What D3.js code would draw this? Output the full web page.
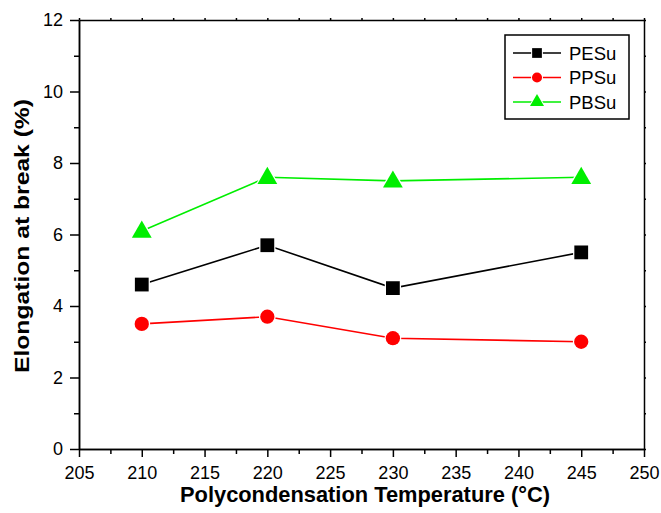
<!DOCTYPE html>
<html>
<head>
<meta charset="utf-8">
<script src="https://cdn.jsdelivr.net/npm/d3@7"></script>
<style>
  body { margin: 0; background: #fff; }
  svg { font-family: "Liberation Sans", Arial, sans-serif; }
</style>
</head>
<body>
<div id="chart"></div>
<script>
// data
var temps = [210, 220, 230, 245];
var pesu = [4.6, 5.7, 4.5, 5.5];
var ppsu = [3.5, 3.7, 3.1, 3.0];
var pbsu = [6.1, 7.6, 7.5, 7.6];
var seriesNames = ["PESu", "PPSu", "PBSu"];
var xTicks = [205, 210, 215, 220, 225, 230, 235, 240, 245, 250];
var yTicks = [0, 2, 4, 6, 8, 10, 12];

var svgWidth = 661, svgHeight = 513;
var margin = {top: 20, right: 17, bottom: 64, left: 79};
var width = svgWidth - margin.left - margin.right;
var height = svgHeight - margin.top - margin.bottom;

var svg = d3.select("#chart").append("svg")
    .attr("width", svgWidth)
    .attr("height", svgHeight);

var g = svg.append("g")
    .attr("transform", `translate(${margin.left}, ${margin.top})`);

var x = d3.scaleLinear().domain([205, 250]).range([0, width]);
var y = d3.scaleLinear().domain([0, 12]).range([height, 0]);

// minor ticks
var xMinor = d3.range(207.5, 250, 5);
var yMinor = d3.range(1, 12, 2);

// bottom axis
g.append("g")
    .attr("transform", `translate(0, ${height})`)
    .call(d3.axisBottom(x).tickValues(xTicks).tickSize(8).tickPadding(9).tickSizeOuter(0));
g.append("g")
    .attr("transform", `translate(0, ${height})`)
    .call(d3.axisBottom(x).tickValues(xMinor).tickSize(5).tickFormat("").tickSizeOuter(0));

// left axis
g.append("g")
    .call(d3.axisLeft(y).tickValues(yTicks).tickSize(9).tickPadding(7).tickSizeOuter(0));
g.append("g")
    .call(d3.axisLeft(y).tickValues(yMinor).tickSize(5).tickFormat("").tickSizeOuter(0));

// top & right frame with tiny ticks
g.append("g")
    .call(d3.axisTop(x).tickValues(xTicks.concat(xMinor)).tickSize(2).tickFormat("").tickSizeOuter(0));
g.append("g")
    .attr("transform", `translate(${width}, 0)`)
    .call(d3.axisRight(y).tickValues(yTicks.concat(yMinor)).tickSize(2).tickFormat("").tickSizeOuter(0));

g.selectAll(".domain, .tick line").attr("stroke", "#000").attr("stroke-width", 1.5);
g.selectAll(".tick text").attr("font-size", 18).attr("fill", "#000");

// series
var series = [
  {name: seriesNames[0], values: pesu, color: "#000000", shape: d3.symbolSquare, size: 190},
  {name: seriesNames[1], values: ppsu, color: "#ff0000", shape: d3.symbolCircle, size: 160},
  {name: seriesNames[2], values: pbsu, color: "#00ee00", shape: d3.symbolTriangle, size: 170}
];

var line = d3.line()
    .x(function(d, i) { return x(temps[i]); })
    .y(function(d) { return y(d); });

series.forEach(function(s) {
  g.append("path")
      .datum(s.values)
      .attr("d", line)
      .attr("fill", "none")
      .attr("stroke", s.color)
      .attr("stroke-width", 1.6);

  g.selectAll(null)
      .data(s.values)
      .enter()
      .append("path")
      .attr("d", d3.symbol().type(s.shape).size(s.size))
      .attr("transform", function(d, i) {
        var dy = s.shape === d3.symbolTriangle ? 1 : 0;
        return `translate(${x(temps[i])}, ${y(d) + dy})`;
      })
      .attr("fill", s.color)
      .attr("stroke", "#fff")
      .attr("stroke-width", 2.5)
      .attr("paint-order", "stroke");
});

// legend
var legend = svg.append("g").attr("transform", "translate(505, 35)");
legend.append("rect")
    .attr("width", 124).attr("height", 84)
    .attr("fill", "#fff").attr("stroke", "#000").attr("stroke-width", 1.5);

series.forEach(function(s, i) {
  var row = legend.append("g").attr("transform", `translate(0, ${18 + i * 24.5})`);
  row.append("line")
      .attr("x1", 8).attr("x2", 56)
      .attr("stroke", s.color).attr("stroke-width", 1.5);
  row.append("path")
      .attr("d", d3.symbol().type(s.shape).size(s.size * 0.5))
      .attr("transform", "translate(32, 0)")
      .attr("fill", s.color)
      .attr("stroke", "#fff").attr("stroke-width", 2)
      .attr("paint-order", "stroke");
  row.append("text")
      .attr("x", 64).attr("y", 6.5)
      .attr("font-size", 18.5)
      .text(s.name);
});

// axis titles
svg.append("text")
    .attr("x", 365)
    .attr("y", 502)
    .attr("text-anchor", "middle")
    .attr("font-size", 22)
    .attr("font-weight", "bold")
    .attr("textLength", 370)
    .attr("lengthAdjust", "spacingAndGlyphs")
    .text("Polycondensation Temperature (°C)");

svg.append("text")
    .attr("transform", "translate(29, 236) rotate(-90)")
    .attr("text-anchor", "middle")
    .attr("font-size", 21)
    .attr("font-weight", "bold")
    .attr("textLength", 274)
    .attr("lengthAdjust", "spacingAndGlyphs")
    .text("Elongation at break (%)");
</script>
</body>
</html>
